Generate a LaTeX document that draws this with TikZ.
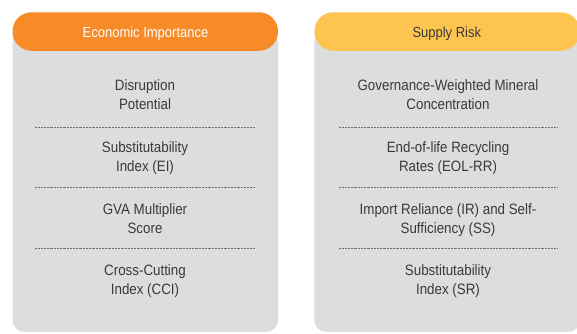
\documentclass[tikz,border=0pt]{standalone}
\usepackage{fontspec}
\setmainfont{Liberation Sans}[FakeStretch=0.89]
\definecolor{panelgray}{HTML}{DCDDDF}
\definecolor{eiorange}{HTML}{F68B28}
\definecolor{sryellow}{HTML}{FDC54F}
\definecolor{inktext}{HTML}{3A3A3C}
\definecolor{dotgray}{HTML}{6E6F72}
\begin{document}
\begin{tikzpicture}[x=1pt,y=-1pt,
  panel/.style={fill=panelgray, rounded corners=12pt},
  header/.style={rounded corners=19pt, minimum width=265.5pt, minimum height=38.5pt,
    inner sep=0pt},
  headtext/.style={anchor=base, inner sep=0pt, font=\fontsize{14.6}{19}\selectfont},
  item/.style={align=center, anchor=base, inner sep=0pt, text=inktext,
    font=\fontsize{15}{19}\selectfont},
  sep/.style={draw=dotgray, line width=0.7pt, dash pattern=on 0.7pt off 0.75pt}
]
\useasboundingbox (0,0) rectangle (577,333);

% gray panels
\path[panel] (12.5,30) rectangle (278,332) coordinate (pEIcorner);
\path[panel] (314.3,30) rectangle (580,332) coordinate (pSRcorner);

% header pills with their titles
\node[header, fill=eiorange] (hEI) at (145.25,31.5) {};
\node[header, fill=sryellow] (hSR) at (447.15,31.5) {};
\node[headtext, text=white] (tEI) at (145.5,37.3) {Economic Importance};
\node[headtext, text=inktext] (tSR) at (446.8,37.3) {Supply Risk};

% Economic Importance indicators (anchored at the baseline of the last line)
\node[item] (ei1) at (145,109) {Disruption\\Potential};
\node[item] (ei2) at (145,171) {Substitutability\\Index (EI)};
\node[item] (ei3) at (145,233) {GVA Multiplier\\Score};
\node[item] (ei4) at (145,294) {Cross-Cutting\\Index (CCI)};

% Supply Risk indicators
\node[item] (sr1) at (448,109) {Governance-Weighted Mineral\\Concentration};
\node[item] (sr2) at (448,171) {End-of-life Recycling\\Rates (EOL-RR)};
\node[item] (sr3) at (448,233) {Import Reliance (IR) and Self-\\Sufficiency (SS)};
\node[item] (sr4) at (448,294) {Substitutability\\Index (SR)};

% dotted separators
\foreach \i/\yy in {1/127.5,2/187.5,3/248}{
  \coordinate (eiL\i) at (35,\yy);  \coordinate (eiR\i) at (254,\yy);
  \coordinate (srL\i) at (339,\yy); \coordinate (srR\i) at (557,\yy);
  \draw[sep] (eiL\i) -- (eiR\i);
  \draw[sep] (srL\i) -- (srR\i);
}
\end{tikzpicture}
\end{document}
